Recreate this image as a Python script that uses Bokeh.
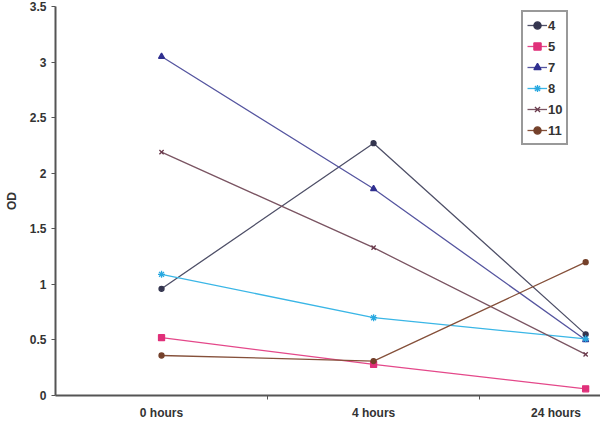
from bokeh.plotting import figure
from bokeh.models import FixedTicker, Range1d, Legend, LegendItem
from bokeh.embed import file_html
from bokeh.resources import INLINE

categories = ["0 hours", "4 hours", "24 hours"]
cat_x = [0.5, 1.5, 2.5]
series_names = ["4", "5", "7", "8", "10", "11"]
s4 = [0.96, 2.27, 0.55]
s5 = [0.52, 0.28, 0.06]
s7 = [3.05, 1.86, 0.50]
s8 = [1.09, 0.70, 0.51]
s10 = [2.19, 1.33, 0.37]
s11 = [0.36, 0.31, 1.20]
y_ticks = [0, 0.5, 1, 1.5, 2, 2.5, 3, 3.5]

series = [s4, s5, s7, s8, s10, s11]
line_colors = ["#4f5068", "#e4488a", "#5656a0", "#3ab6e6", "#7a5462", "#85503a"]
marker_colors = ["#34354f", "#e0307a", "#303090", "#28a8e0", "#6a3a4c", "#74402a"]
markers = ["circle", "square", "triangle", "asterisk", "x", "circle"]
msizes = [5, 6, 6, 7, 6, 5]

FONT = "Liberation Sans"

p = figure(width=600, height=422, output_backend="svg", toolbar_location=None,
           x_range=Range1d(0, 2.57), y_range=Range1d(0, 3.5),
           min_border_left=55, min_border_right=0, min_border_top=6, min_border_bottom=10)
p.outline_line_color = None
p.xgrid.visible = False
p.ygrid.visible = False

items = []
for name, ys, lc, mc, m, s in zip(series_names, series, line_colors, marker_colors, markers, msizes):
    r1 = p.line(cat_x, ys, line_color=lc, line_width=1.3)
    r2 = p.scatter(cat_x, ys, marker=m, size=s, fill_color=mc, line_color=mc, line_width=1.3)
    items.append(LegendItem(label=name, renderers=[r1, r2]))

legend = Legend(items=items, location=(466, 250))
legend.border_line_color = "#333333"
legend.border_line_width = 2
legend.label_text_font = FONT
legend.label_text_font_style = "bold"
legend.label_text_font_size = "13px"
legend.label_text_color = "#333333"
legend.glyph_width = 20
legend.glyph_height = 18
legend.label_height = 18
legend.label_width = 10
legend.spacing = 3
legend.padding = 4
legend.label_standoff = 1
legend.margin = 0
legend.background_fill_alpha = 1
p.add_layout(legend)

# y axis
ya = p.yaxis[0]
ya.ticker = FixedTicker(ticks=y_ticks)
ya.axis_label = "OD"
ya.axis_label_text_font = FONT
ya.axis_label_text_font_style = "bold"
ya.axis_label_text_font_size = "12px"
ya.axis_label_text_color = "#333333"
ya.axis_label_standoff = 8
ya.major_label_text_font = FONT
ya.major_label_text_font_style = "bold"
ya.major_label_text_font_size = "12px"
ya.major_label_text_color = "#333333"
ya.axis_line_color = "#555555"
ya.axis_line_width = 2
ya.major_tick_line_color = "#555555"
ya.major_tick_in = 0
ya.major_tick_out = 4
ya.minor_tick_line_color = None
ya.major_label_standoff = 5

# x axis: labels at category centres, separator ticks between
xa = p.xaxis[0]
label_pos = [0.5, 1.5, 2.36]
xa.ticker = FixedTicker(ticks=label_pos, minor_ticks=[1, 2])
xa.major_label_overrides = {pos: lab for pos, lab in zip(label_pos, categories)}
xa.major_tick_line_color = None
xa.major_tick_out = 0
xa.major_tick_in = 0
xa.minor_tick_line_color = "#555555"
xa.minor_tick_in = 0
xa.minor_tick_out = 4
xa.axis_line_color = "#555555"
xa.axis_line_width = 2
xa.major_label_text_font = FONT
xa.major_label_text_font_style = "bold"
xa.major_label_text_font_size = "12px"
xa.major_label_text_color = "#333333"
xa.major_label_standoff = 6

open("out.html", "w").write(file_html(p, INLINE))
